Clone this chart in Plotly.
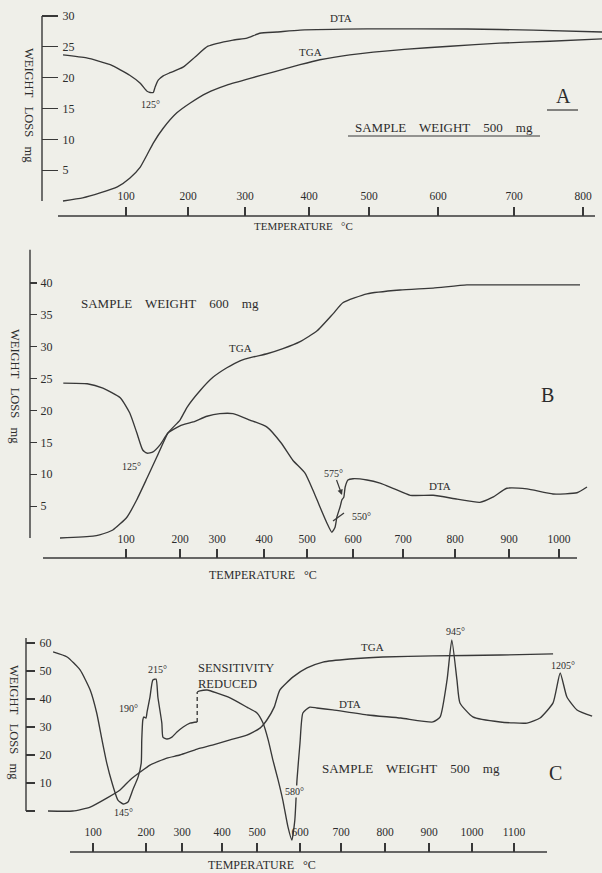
import numpy as np
import plotly.graph_objects as go

W, H = 602, 873
BG = "#efefe9"
INK = "#2c2c2c"
LINE = "#383838"
FONT = "Liberation Serif, DejaVu Serif, serif"

# ------------------------------------------------------------------ data
# Panel A  (sample weight 500 mg)
A_tick_temps = [100, 200, 300, 400, 500, 600, 700, 800]
A_y_ticks = [0, 5, 10, 15, 20, 25, 30]
A_dta_T = [20, 50, 80, 106, 123, 134, 139, 144, 147, 152, 160, 171, 192, 213, 235, 279,
           303, 323, 350, 386, 497, 638, 728, 828]
A_dta_v = [23.7, 23.2, 22.1, 20.4, 19.1, 17.8, 17.6, 17.6, 18.5, 19.6, 20.3, 20.8, 21.7,
           23.4, 25.1, 26.1, 26.4, 27.2, 27.4, 27.7, 27.9, 27.9, 27.7, 27.4]
A_tga_T = [20, 45, 67, 89, 106, 123, 134, 144, 160, 182, 204, 233, 268, 308, 344, 386,
           418, 468, 551, 616, 681, 752, 828]
A_tga_v = [0, 0.5, 1.3, 2.3, 3.7, 5.5, 7.5, 9.4, 11.8, 14.3, 15.9, 17.5, 18.8, 19.9, 20.9,
           22.1, 22.9, 23.7, 24.6, 25.1, 25.6, 25.9, 26.3]

# Panel B  (sample weight 600 mg)
B_tick_temps = [100, 200, 300, 400, 500, 600, 700, 800, 900, 1000]
B_y_ticks = [0, 5, 10, 15, 20, 25, 30, 35, 40]
B_tga_T = [20, 60, 68, 84, 102, 120, 139, 157, 178, 200, 219, 254, 289, 321, 349, 377, 407,
           444, 484, 522, 557, 578, 628, 694, 758, 822, 883, 948, 1042]
B_tga_v = [0, 0.3, 0.5, 1.25, 3.3, 6.0, 9.4, 12.7, 16.5, 18.5, 20.5, 23.1, 25.2, 26.7, 27.8,
           28.4, 28.9, 29.7, 30.8, 32.5, 35.2, 36.9, 38.3, 38.9, 39.2, 39.7, 39.7, 39.7, 39.7]
B_dta_T = [24, 53, 72, 93, 107, 120, 131, 139, 150, 163, 178, 200, 235, 273, 306, 334, 370,
           407, 440, 467, 495, 513, 528, 543, 554, 561, 565, 572, 576, 580, 583, 589, 600,
           628, 654, 680, 714, 758, 804, 846, 870, 896, 936, 988, 1036, 1056]
B_dta_v = [24.3, 24.2, 23.5, 22.0, 19.6, 16.5, 13.8, 13.3, 13.5, 14.6, 16.5, 17.6, 18.2, 19.1,
           19.5, 19.5, 18.5, 17.4, 14.9, 12.2, 10.2, 7.5, 4.9, 2.4, 0.9, 1.7, 3.3, 4.9, 6.0,
           6.4, 8.0, 9.1, 9.3, 9.1, 8.6, 7.8, 6.7, 6.7, 6.1, 5.6, 6.4, 7.8, 7.7, 6.9, 7.1, 8.0]

# Panel C  (sample weight 500 mg)
C_tick_temps = [100, 200, 300, 400, 500, 600, 700, 800, 900, 1000, 1100]
C_y_ticks = [0, 10, 20, 30, 40, 50, 60]
C_tga_T = [20, 64, 95, 126, 151, 170, 189, 211, 258, 294, 338, 378, 423, 471, 507, 523, 540,
           553, 584, 617, 656, 720, 795, 909, 1067, 1193]
C_tga_v = [0, 0, 1.4, 4.6, 7.5, 11.1, 13.9, 16.4, 18.9, 20.0, 22.1, 23.6, 25.4, 27.1, 29.6,
           32.5, 37.1, 43.2, 47.9, 51.1, 53.2, 54.3, 55.0, 55.4, 55.7, 56.1]
# DTA before the sensitivity change
C_dta1_T = [29, 54, 77, 95, 107, 117, 126, 136, 147, 157, 166, 175, 185, 191, 192, 194, 196,
            200, 203, 211, 219, 228, 233, 244, 247, 258, 272, 286, 303, 320, 338]
C_dta1_v = [56.8, 55.0, 50.4, 43.2, 35.0, 25.4, 17.1, 10.0, 3.9, 2.5, 3.2, 7.5, 12.1, 17.1,
            25.4, 32.5, 33.6, 33.2, 35.4, 40.7, 46.8, 47.1, 40.7, 31.4, 26.4, 25.7, 26.4,
            28.2, 30.0, 31.4, 31.8]
# pen jump at the sensitivity change
C_jump_T = [338, 338]
C_jump_v = [31.8, 42.5]
# DTA after the sensitivity change
C_dta2_T = [338, 345, 363, 388, 423, 471, 500, 514, 526, 537, 549, 560, 572, 581, 588, 593,
            600, 607, 624, 641, 680, 761, 836, 909, 926, 942, 953, 965, 972, 1002, 1067, 1131,
            1162, 1193, 1210, 1226, 1250, 1286]
C_dta2_v = [42.5, 42.9, 43.2, 42.1, 40.4, 37.1, 35.0, 31.4, 25.4, 18.2, 11.1, 3.9, -5.7,
            -10.4, -3.2, 11.1, 24.3, 35.0, 37.1, 36.8, 36.1, 34.3, 33.2, 31.8, 33.6, 46.8,
            61.1, 46.8, 38.6, 33.6, 31.8, 31.4, 33.2, 38.6, 49.3, 40.7, 36.1, 33.9]

# ------------------------------------------------------------------ scales / layout
# The recorder's temperature scale is not linear: each panel has its own
# calibration (temperature -> chart position, in chart units = pixels).
PANELS = {
    "A": dict(ax="", box=(42, 8, 602, 216), yref=((0, 201), (30, 16)),
              cal_t=[20] + A_tick_temps, cal_p=[63, 126, 188, 245, 309, 369, 438, 514, 583],
              ticks_t=A_tick_temps, yticks=A_y_ticks, yticklen=16, yline_top=30,
              xline=(58, 595), ystand=4, xstand=4),
    "B": dict(ax="2", box=(30, 245, 602, 558), yref=((0, 538), (40, 283)),
              cal_t=[20] + B_tick_temps,
              cal_p=[60, 126, 180, 217, 264, 307, 353, 403, 455, 509, 559],
              ticks_t=B_tick_temps, yticks=B_y_ticks, yticklen=7, yline_top=45.2,
              xline=(43, 577), ystand=3, xstand=3),
    "C": dict(ax="3", box=(26, 625, 602, 852), yref=((0, 811), (60, 643)),
              cal_t=[20] + C_tick_temps,
              cal_p=[48, 93, 146, 182, 222, 257, 300, 341, 385, 429, 472, 514],
              ticks_t=C_tick_temps, yticks=C_y_ticks, yticklen=9, yline_top=61.8,
              xline=(70, 547), ystand=4, xstand=4),
}


def chart_pos(temps, cal_t, cal_p):
    t = np.asarray(temps, float)
    ct = np.asarray(cal_t, float)
    cp = np.asarray(cal_p, float)
    p = np.interp(t, ct, cp)
    s0 = (cp[1] - cp[0]) / (ct[1] - ct[0])
    s1 = (cp[-1] - cp[-2]) / (ct[-1] - ct[-2])
    p = np.where(t < ct[0], cp[0] + (t - ct[0]) * s0, p)
    p = np.where(t > ct[-1], cp[-1] + (t - ct[-1]) * s1, p)
    return p


fig = go.Figure()
layout = {}
shapes = []

for key, P in PANELS.items():
    ax = P["ax"]
    x0, y0, x1, y1 = P["box"]
    (va, pa), (vb, pb) = P["yref"]
    per = (pa - pb) / (vb - va)
    ylo = va - (y1 - pa) / per
    yhi = vb + (pb - y0) / per
    layout["xaxis" + ax] = dict(
        domain=[x0 / W, x1 / W], range=[x0, x1], anchor="y" + ax,
        tickvals=list(chart_pos(P["ticks_t"], P["cal_t"], P["cal_p"])),
        ticktext=[str(t) for t in P["ticks_t"]],
        ticks="inside", ticklen=9, tickwidth=1.2, tickcolor=LINE,
        ticklabelposition="inside", ticklabelstandoff=P["xstand"],
        showline=False, showgrid=False, zeroline=False,
        tickfont=dict(family=FONT, size=11.5, color=INK), fixedrange=True,
    )
    layout["yaxis" + ax] = dict(
        domain=[1 - y1 / H, 1 - y0 / H], range=[ylo, yhi], anchor="x" + ax,
        tickvals=P["yticks"], ticktext=["" if v == 0 else str(v) for v in P["yticks"]],
        ticks="inside", ticklen=P["yticklen"], tickwidth=1.2, tickcolor=LINE,
        ticklabelposition="inside", ticklabelstandoff=P["ystand"],
        showline=False, showgrid=False, zeroline=False,
        tickfont=dict(family=FONT, size=12, color=INK), fixedrange=True,
    )
    # axis lines
    shapes.append(dict(type="line", xref="x" + ax + " domain", yref="y" + ax,
                       x0=0, x1=0, y0=0, y1=P["yline_top"],
                       line=dict(color=LINE, width=1.4)))
    shapes.append(dict(type="line", xref="x" + ax, yref="y" + ax + " domain",
                       x0=P["xline"][0], x1=P["xline"][1], y0=0, y1=0,
                       line=dict(color=LINE, width=1.4)))


def curve(key, T, v, dash="solid"):
    P = PANELS[key]
    fig.add_trace(go.Scatter(
        x=chart_pos(T, P["cal_t"], P["cal_p"]), y=v, mode="lines",
        line=dict(color=LINE, width=1.35, shape="spline", smoothing=0.5, dash=dash),
        xaxis="x" + P["ax"], yaxis="y" + P["ax"], showlegend=False, hoverinfo="skip"))


curve("A", A_dta_T, A_dta_v)
curve("A", A_tga_T, A_tga_v)
curve("B", B_tga_T, B_tga_v)
curve("B", B_dta_T, B_dta_v)
curve("C", C_tga_T, C_tga_v)
curve("C", C_dta1_T, C_dta1_v)
curve("C", C_jump_T, C_jump_v, dash="4px,3px")
curve("C", C_dta2_T, C_dta2_v)

annotations = []


def txt(text, x, y, size=11, angle=0, xanchor="center", bg=None, **kw):
    d = dict(text=text, x=x / W, y=1 - y / H, xref="paper", yref="paper",
             showarrow=False, textangle=angle, xanchor=xanchor, yanchor="middle",
             font=dict(family=FONT, size=size, color=INK))
    if bg:
        d["bgcolor"] = bg
        d["borderpad"] = 0
    d.update(kw)
    annotations.append(d)


NB = "\u00a0"
ylab = "WEIGHT" + NB * 2 + " LOSS" + NB * 2 + " mg"
tlab = "TEMPERATURE" + NB * 2 + " °C"


def sample(w):
    return "SAMPLE" + NB * 3 + " WEIGHT" + NB * 3 + " " + w + NB * 3 + " mg"


# Panel A texts
txt("DTA", 341, 18)
txt("TGA", 310, 52)
txt("125°", 150, 104, 10)
txt("A", 563, 96, 20)
txt(sample("500"), 444, 127, 13)
txt(tlab, 303, 226, 11)
txt(ylab, 29, 105, 12.5, angle=90)
shapes.append(dict(type="line", xref="paper", yref="paper", x0=547 / W, x1=578 / W,
                   y0=1 - 110 / H, y1=1 - 110 / H, line=dict(color=LINE, width=1.2)))
shapes.append(dict(type="line", xref="paper", yref="paper", x0=348 / W, x1=540 / W,
                   y0=1 - 136 / H, y1=1 - 136 / H, line=dict(color=LINE, width=1.2)))

# Panel B texts
txt(sample("600"), 170, 303, 13)
txt("TGA", 240, 348)
txt("125°", 131, 466, 10)
txt("550°", 361, 516, 10)
txt("DTA", 440, 486)
txt("B", 547, 395, 20)
txt(tlab, 263, 575, 12)
txt(ylab, 15, 386, 12.5, angle=90)
annotations.append(dict(text="575°", x=342 / W, y=1 - 495 / H, xref="paper", yref="paper",
                        ax=-8, ay=-22, showarrow=True, arrowhead=2, arrowsize=0.9,
                        arrowwidth=1.2, arrowcolor=LINE, standoff=0,
                        font=dict(family=FONT, size=10, color=INK)))
shapes.append(dict(type="line", xref="paper", yref="paper", x0=333 / W, x1=344 / W,
                   y0=1 - 521 / H, y1=1 - 513 / H, line=dict(color=LINE, width=1.2)))

# Panel C texts
txt("145°", 123, 812, 10)
txt("190°", 128, 708, 10)
txt("215°", 157, 669, 10)
txt("SENSITIVITY<br>REDUCED", 196, 676, 12.5, xanchor="left", align="left")
txt("580°", 294, 791, 10, bg=BG)
txt("TGA", 372, 647)
txt("DTA", 350, 704)
txt("945°", 455, 631, 10)
txt("1205°", 563, 665, 10)
txt(sample("500"), 411, 768, 13)
txt("C", 555, 773, 20)
txt(tlab, 262, 865, 12)
txt(ylab, 14, 722, 12.5, angle=90)

fig.update_layout(
    width=W, height=H, margin=dict(l=0, r=0, t=0, b=0),
    paper_bgcolor=BG, plot_bgcolor=BG, showlegend=False,
    annotations=annotations, shapes=shapes, **layout,
)

fig.write_html(
    "out.html",
    config={"displayModeBar": False, "staticPlot": True},
    post_script="document.body.style.margin='0';document.body.style.padding='0';"
                "document.body.style.overflow='hidden';"
                "document.body.style.background='" + BG + "';",
)
